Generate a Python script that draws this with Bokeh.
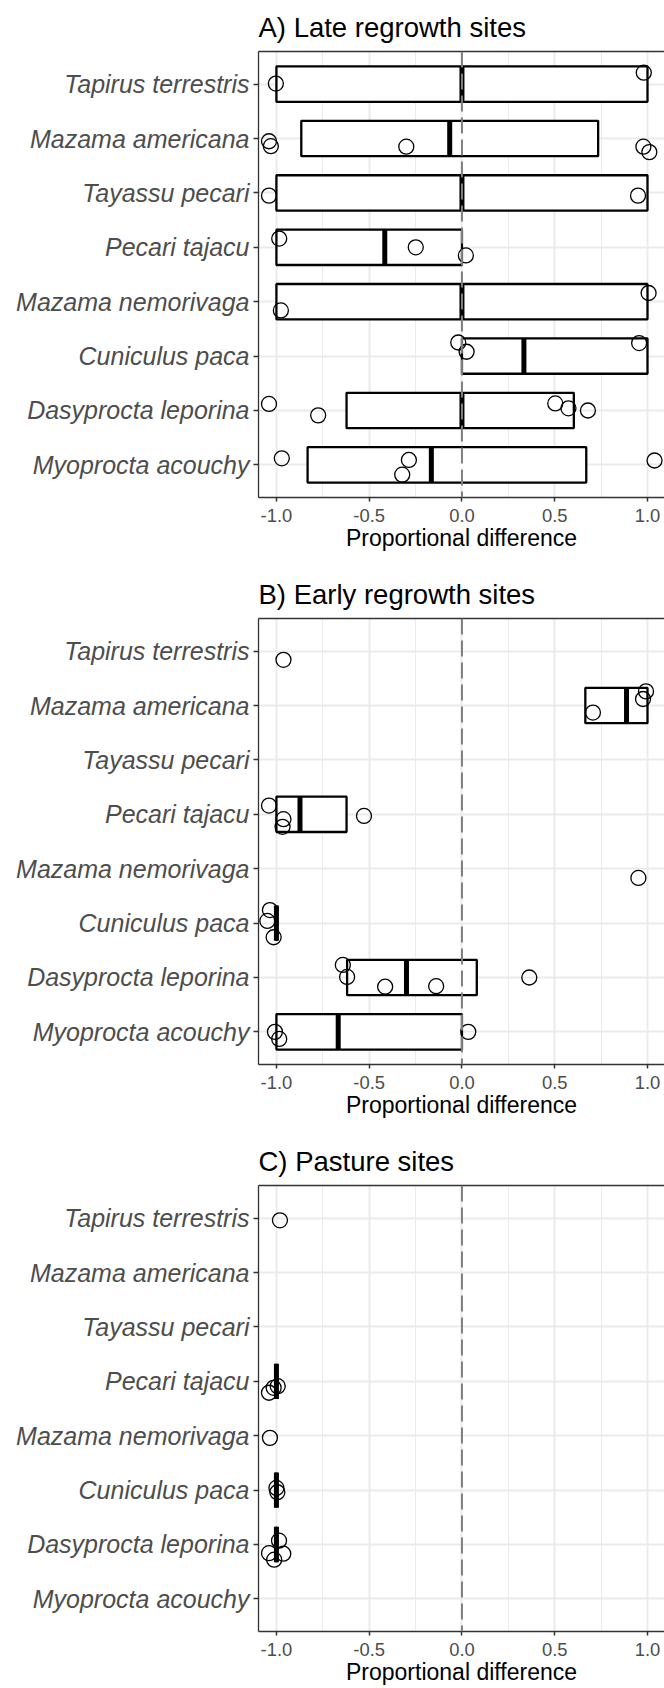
from bokeh.plotting import figure
from bokeh.models import (FactorRange, Range1d, FixedTicker, Span, LinearAxis,
                          ColumnDataSource, Title)
from bokeh.layouts import column
from bokeh.embed import file_html
from bokeh.resources import INLINE

# ---------------- data ----------------
species = ["Tapirus terrestris", "Mazama americana", "Tayassu pecari", "Pecari tajacu",
           "Mazama nemorivaga", "Cuniculus paca", "Dasyprocta leporina", "Myoprocta acouchy"]

x_ticks = [-1.0, -0.5, 0.0, 0.5, 1.0]
x_tick_labels = ["-1.0", "-0.5", "0.0", "0.5", "1.0"]
x_minor_ticks = [-0.75, -0.25, 0.25, 0.75]
ref_line = 0.0
x_title = "Proportional difference"
panel_titles = ["A) Late regrowth sites", "B) Early regrowth sites", "C) Pasture sites"]

# A) Late regrowth: box statistics per species
late_q1 = [-1.0, -0.866, -1.0, -1.0, -1.0, 0.0, -0.622, -0.832]
late_med = [0.0, -0.066, 0.0, -0.416, 0.0, 0.334, 0.0, -0.165]
late_q3 = [1.0, 0.734, 1.0, 0.0, 1.0, 1.0, 0.603, 0.670]
late_pt_species = ["Tapirus terrestris", "Tapirus terrestris",
                   "Mazama americana", "Mazama americana", "Mazama americana", "Mazama americana", "Mazama americana",
                   "Tayassu pecari", "Tayassu pecari",
                   "Pecari tajacu", "Pecari tajacu", "Pecari tajacu",
                   "Mazama nemorivaga", "Mazama nemorivaga",
                   "Cuniculus paca", "Cuniculus paca", "Cuniculus paca",
                   "Dasyprocta leporina", "Dasyprocta leporina", "Dasyprocta leporina", "Dasyprocta leporina", "Dasyprocta leporina",
                   "Myoprocta acouchy", "Myoprocta acouchy", "Myoprocta acouchy", "Myoprocta acouchy"]
late_pt_x = [-1.003, 0.98,
             -1.04, -1.03, -0.30, 0.978, 1.01,
             -1.04, 0.949,
             -0.985, -0.249, 0.021,
             1.006, -0.976,
             -0.02, 0.025, 0.955,
             -1.04, -0.775, 0.503, 0.574, 0.679,
             -0.971, -0.286, -0.322, 1.038]
late_pt_jitter = [0.01, 0.21,
                  -0.05, -0.14, -0.15, -0.15, -0.25,
                  -0.05, -0.05,
                  0.16, 0.0, -0.15,
                  0.16, -0.16,
                  0.25, 0.08, 0.24,
                  0.12, -0.09, 0.13, 0.04, 0.0,
                  0.12, 0.09, -0.18, 0.08]

# B) Early regrowth
early_q1 = [None, 0.665, None, -1.0, None, -1.0, -0.619, -1.0]
early_med = [None, 0.887, None, -0.873, None, -1.0, -0.299, -0.667]
early_q3 = [None, 1.0, None, -0.622, None, -1.0, 0.08, 0.0]
early_pt_species = ["Tapirus terrestris",
                    "Mazama americana", "Mazama americana", "Mazama americana",
                    "Pecari tajacu", "Pecari tajacu", "Pecari tajacu", "Pecari tajacu",
                    "Mazama nemorivaga",
                    "Cuniculus paca", "Cuniculus paca", "Cuniculus paca",
                    "Dasyprocta leporina", "Dasyprocta leporina", "Dasyprocta leporina", "Dasyprocta leporina", "Dasyprocta leporina",
                    "Myoprocta acouchy", "Myoprocta acouchy", "Myoprocta acouchy"]
early_pt_x = [-0.962,
              0.992, 0.976, 0.706,
              -1.04, -0.962, -0.967, -0.528,
              0.951,
              -1.035, -1.049, -1.015,
              -0.642, -0.619, -0.414, -0.139, 0.363,
              -1.008, -0.985, 0.034]
early_pt_jitter = [-0.16,
                   0.26, 0.12, -0.13,
                   0.16, -0.09, -0.23, -0.03,
                   -0.17,
                   0.24, 0.04, -0.26,
                   0.23, 0.01, -0.17, -0.16, 0.0,
                   0.0, -0.13, 0.0]

# C) Pasture
pasture_q1 = [None, None, None, -1.0, None, -1.0, -1.0, None]
pasture_med = [None, None, None, -1.0, None, -1.0, -1.0, None]
pasture_q3 = [None, None, None, -1.0, None, -1.0, -1.0, None]
pasture_pt_species = ["Tapirus terrestris",
                      "Pecari tajacu", "Pecari tajacu", "Pecari tajacu",
                      "Mazama nemorivaga",
                      "Cuniculus paca", "Cuniculus paca",
                      "Dasyprocta leporina", "Dasyprocta leporina", "Dasyprocta leporina", "Dasyprocta leporina"]
pasture_pt_x = [-0.981,
                -1.04, -1.015, -0.993,
                -1.035,
                -1.0, -0.995,
                -0.986, -0.963, -1.04, -1.012]
pasture_pt_jitter = [-0.04,
                     -0.21, -0.12, -0.09,
                     -0.04,
                     0.04, -0.04,
                     0.07, -0.17, -0.16, -0.28]

# ---------------- styling ----------------
FONT = "Liberation Sans"
BOX_W = 0.65
X_START, X_END = -1.0966, 1.0917


def make_panel(title, q1, med, q3, pt_sp, pt_x, pt_j, height, top, bottom):
    p = figure(width=664, height=height,
               x_range=Range1d(X_START, X_END),
               y_range=FactorRange(factors=species[::-1], range_padding=0.1,
                                   range_padding_units="absolute"),
               output_backend="svg", toolbar_location=None,
               min_border_left=258, min_border_right=0,
               min_border_top=top, min_border_bottom=bottom)
    p.outline_line_color = None
    p.background_fill_color = "white"
    p.border_fill_color = "white"

    ticker = FixedTicker(ticks=x_ticks, minor_ticks=x_minor_ticks)
    xa = p.below[0]
    xa.ticker = ticker
    xa.major_label_overrides = dict(zip(x_ticks, x_tick_labels))
    xa.axis_label = x_title
    xa.axis_label_text_font = FONT
    xa.axis_label_text_font_size = "23px"
    xa.axis_label_text_font_style = "normal"
    xa.axis_label_text_color = "black"
    xa.axis_label_standoff = 0
    xa.major_label_text_font = FONT
    xa.major_label_text_font_size = "18.4px"
    xa.major_label_text_color = "#4D4D4D"
    xa.major_label_standoff = 7
    xa.major_tick_out = 4
    xa.major_tick_in = 0
    xa.minor_tick_out = 0
    xa.minor_tick_in = 0
    xa.major_tick_line_color = "#333333"
    xa.major_tick_line_width = 1.5
    xa.axis_line_color = "#333333"
    xa.axis_line_width = 1.3

    ya = p.left[0]
    ya.major_label_text_font = FONT
    ya.major_label_text_font_size = "25px"
    ya.major_label_text_font_style = "italic"
    ya.major_label_text_color = "#4D4D4D"
    ya.major_label_standoff = 4
    ya.major_tick_out = 5
    ya.major_tick_in = 0
    ya.major_tick_line_color = "#333333"
    ya.major_tick_line_width = 1.5
    ya.axis_line_color = "#333333"
    ya.axis_line_width = 1.3

    # top border of the panel (inner-most "above" element)
    top_axis = LinearAxis(ticker=FixedTicker(ticks=[]), axis_line_color="#333333",
                          axis_line_width=1.3, major_tick_line_color=None,
                          minor_tick_line_color=None, major_tick_out=0,
                          major_tick_in=0, major_label_standoff=0,
                          axis_label_standoff=0)
    p.add_layout(top_axis, "above")

    # title, placed outside the top border
    t = Title(text=title, text_font=FONT, text_font_size="27.5px",
              text_font_style="normal", text_color="black", align="left",
              text_line_height=1.0, standoff=18, offset=0)
    p.add_layout(t, "above")

    p.xgrid.ticker = ticker
    p.xgrid.grid_line_color = "#EBEBEB"
    p.xgrid.grid_line_width = 2
    p.xgrid.minor_grid_line_color = "#EBEBEB"
    p.xgrid.minor_grid_line_width = 1
    p.ygrid.grid_line_color = "#EBEBEB"
    p.ygrid.grid_line_width = 2

    # boxes
    bs = [s for s, a in zip(species, q1) if a is not None]
    bq1 = [a for a in q1 if a is not None]
    bq3 = [a for a in q3 if a is not None]
    bmed = [a for a in med if a is not None]
    if bs:
        src = ColumnDataSource(dict(
            sp=bs, q1=bq1, q3=bq3, med=bmed,
            y0=[(s, -BOX_W / 2) for s in bs], y1=[(s, BOX_W / 2) for s in bs]))
        p.hbar(y="sp", left="q1", right="q3", height=BOX_W, fill_color="white",
               line_color="black", line_width=2.3, source=src)
        p.segment(x0="med", x1="med", y0="y0", y1="y1", line_color="black",
                  line_width=5, source=src)

    p.add_layout(Span(location=ref_line, dimension="height", line_color="#7F7F7F",
                      line_width=2, line_dash="16 6"))

    psrc = ColumnDataSource(dict(x=pt_x, y=[(s, j) for s, j in zip(pt_sp, pt_j)]))
    p.scatter(x="x", y="y", source=psrc, marker="circle", size=15, fill_color=None,
              line_color="black", line_width=1.3)
    return p


pA = make_panel(panel_titles[0], late_q1, late_med, late_q3,
                late_pt_species, late_pt_x, late_pt_jitter, 567, 49, 70)
pB = make_panel(panel_titles[1], early_q1, early_med, early_q3,
                early_pt_species, early_pt_x, early_pt_jitter, 567, 50, 70)
pC = make_panel(panel_titles[2], pasture_q1, pasture_med, pasture_q3,
                pasture_pt_species, pasture_pt_x, pasture_pt_jitter, 554, 49, 57)

layout = column(pA, pB, pC, spacing=0)
open("out.html", "w").write(file_html(layout, INLINE))
